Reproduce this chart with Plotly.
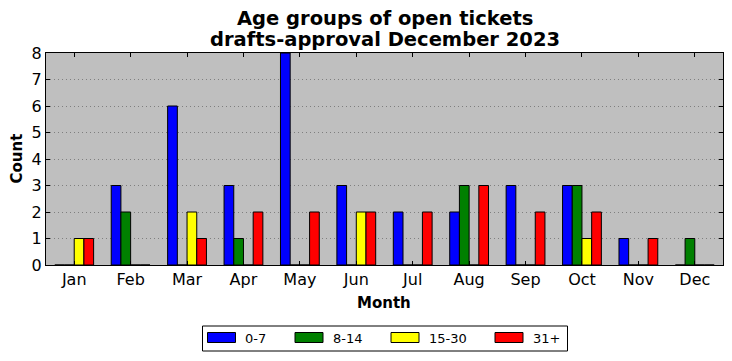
import plotly.graph_objects as go

months = ["Jan", "Feb", "Mar", "Apr", "May", "Jun", "Jul", "Aug", "Sep", "Oct", "Nov", "Dec"]
age_0_7 = [0, 3, 6, 3, 8, 3, 2, 2, 3, 3, 1, 0]
age_8_14 = [0, 2, 0, 1, 0, 0, 0, 3, 0, 3, 0, 1]
age_15_30 = [1, 0, 2, 0, 0, 2, 0, 0, 0, 1, 0, 0]
age_31_plus = [1, 0, 1, 2, 2, 2, 2, 3, 2, 2, 1, 0]
series_names = ["0-7", "8-14", "15-30", "31+"]
series_colors = ["#0000ff", "#008000", "#ffff00", "#ff0000"]
series_values = [age_0_7, age_8_14, age_15_30, age_31_plus]

# page body has an 8px margin; figure sized to fit the 732x361 window
OFF = 8
W, H = 732 - OFF, 361 - OFF
ML, MR, MT, MB = 46 - OFF, 9, 53 - OFF, 96
PW, PH = W - ML - MR, H - MT - MB


def px(xp):
    return (xp - OFF - ML) / PW


def py(yp):
    return (H - MB - (yp - OFF)) / PH


w = 0.172
x = list(range(len(months)))

fig = go.Figure()
for i, (name, vals, col) in enumerate(zip(series_names, series_values, series_colors)):
    fig.add_trace(go.Bar(
        x=x, y=vals, name=name, width=w, offset=(i - 2) * w,
        marker=dict(color=col, line=dict(color="black", width=1)),
        showlegend=False,
    ))

axis_font = dict(family="DejaVu Sans", size=16, color="black")
title_font = dict(family="DejaVu Sans", size=19.5, color="black")
lab_font = dict(family="DejaVu Sans", size=15, color="black")

annotations = [
    dict(text="<b>Age groups of open tickets</b>", x=px(384.5), y=py(19),
         xref="paper", yref="paper", xanchor="center", yanchor="middle",
         showarrow=False, font=title_font),
    dict(text="<b>drafts-approval December 2023</b>", x=px(384.5), y=py(40),
         xref="paper", yref="paper", xanchor="center", yanchor="middle",
         showarrow=False, font=title_font),
    dict(text="<b>Month</b>", x=px(384), y=py(303), xref="paper", yref="paper",
         xanchor="center", yanchor="middle", showarrow=False, font=lab_font),
    dict(text="<b>Count</b>", x=px(16.5), y=py(159), xref="paper", yref="paper",
         xanchor="center", yanchor="middle", showarrow=False, font=lab_font,
         textangle=-90),
]

shapes = [
    dict(type="rect", xref="paper", yref="paper", x0=px(202.5), x1=px(567.5),
         y0=py(326), y1=py(351), line=dict(color="black", width=1),
         fillcolor="white", layer="above"),
]
patch_x = [207.5, 295, 391, 495]
for name, col, xp in zip(series_names, series_colors, patch_x):
    shapes.append(dict(type="rect", xref="paper", yref="paper", x0=px(xp), x1=px(xp + 28),
                       y0=py(332.5), y1=py(342.5), line=dict(color="black", width=1),
                       fillcolor=col, layer="above"))
    annotations.append(dict(text=name, x=px(xp + 36), y=py(338), xref="paper", yref="paper",
                            xanchor="left", yanchor="middle", showarrow=False,
                            font=dict(family="DejaVu Sans", size=13, color="black")))

fig.update_layout(
    width=W, height=H,
    barmode="overlay",
    paper_bgcolor="white", plot_bgcolor="#bfbfbf",
    margin=dict(l=ML, r=MR, t=MT, b=MB, autoexpand=False),
    font=dict(family="DejaVu Sans", color="black"),
    showlegend=False,
    annotations=annotations,
    shapes=shapes,
    xaxis=dict(
        range=[-0.5, 11.5], tickmode="array", tickvals=x, ticktext=months,
        ticks="inside", ticklen=4, tickcolor="black", mirror="ticks",
        showline=True, linecolor="black", linewidth=1, showgrid=False,
        zeroline=False, tickfont=axis_font, automargin=False,
    ),
    yaxis=dict(
        range=[0, 8], dtick=1, ticks="inside", ticklen=4, tickcolor="black",
        mirror="ticks", showline=True, linecolor="black", linewidth=1,
        showgrid=True, gridcolor="#7f7f7f", griddash="1px,3px", gridwidth=1,
        zeroline=False, tickfont=axis_font, automargin=False,
    ),
)

fig.write_html("out.html")
